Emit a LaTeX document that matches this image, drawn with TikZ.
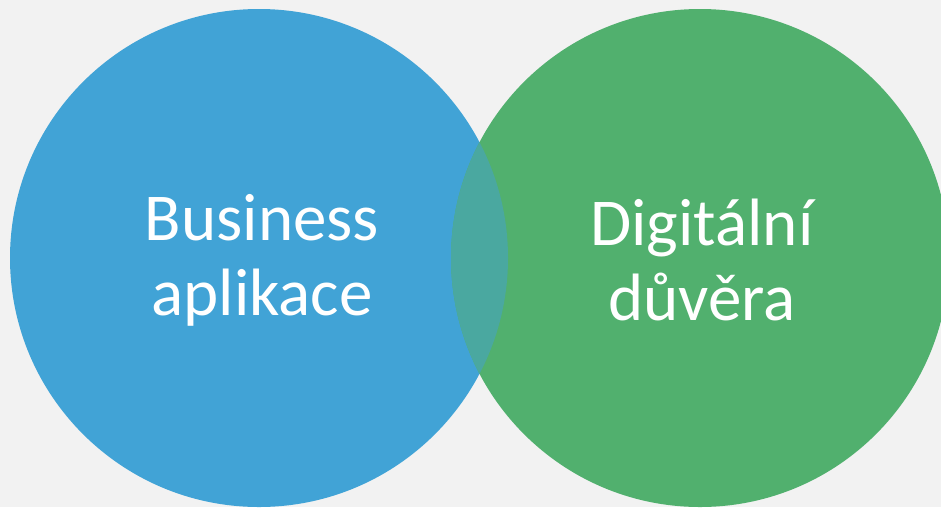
\documentclass[tikz,border=0pt]{standalone}
\usepackage{fontspec}
\setmainfont{Carlito}
\usepackage{tikz}
\usetikzlibrary{shapes.geometric}
\definecolor{latar}{HTML}{F2F2F2}
\definecolor{biru}{HTML}{41A3D6}
\definecolor{hijau}{HTML}{51B06E}
\definecolor{irisan}{HTML}{4AA8A0}
\tikzstyle{lingkaran} = [circle, minimum size=498pt, inner sep=0pt, draw=none, text=white, align=center, font=\fontsize{67}{75}\selectfont]

\begin{document}
\begin{tikzpicture}[x=1pt, y=1pt]
            \fill[latar] (0,0) rectangle (941,-507);
            \useasboundingbox (0,0) rectangle (941,-507);
            \node (business) [lingkaran, fill=biru] at (259,-258) {};
            \node (digital) [lingkaran, fill=hijau] at (700,-258) {};
            \begin{scope}
                \clip (business.center) circle (249pt);
                \fill[irisan] (digital.center) circle (249pt);
            \end{scope}
            \node (teks-business) [lingkaran, minimum size=0pt] at ([xshift=3pt, yshift=-2pt]business.center) {Business\\aplikace};
            \node (teks-digital) [lingkaran, minimum size=0pt] at ([xshift=2pt, yshift=-2pt]digital.center) {Digitální\\důvěra};
        \end{tikzpicture}
\end{document}
